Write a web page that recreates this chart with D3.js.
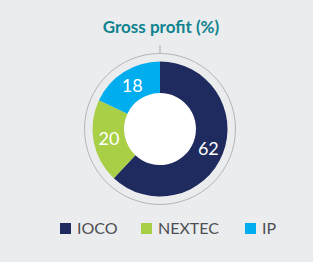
<!DOCTYPE html>
<html>
<head>
<meta charset="utf-8">
<script src="https://cdn.jsdelivr.net/npm/d3@7"></script>
<style>
  body { margin: 0; background: #ebeced; }
  svg { display: block; }
</style>
</head>
<body>
<div id="chart"></div>
<script>
// gross profit split by segment
var segments = ["IOCO", "NEXTEC", "IP"];
var values = [62, 20, 18];
var colours = ["#1f2a5e", "#a8cf45", "#00aeef"];
var title = "Gross profit (%)";

var width = 313, height = 262;
var cx = 160, cy = 129;

var svg = d3.select("#chart").append("svg")
    .attr("width", width)
    .attr("height", height);

svg.append("rect")
    .attr("width", width)
    .attr("height", height)
    .attr("fill", "#ebeced");

// title
svg.append("text")
    .attr("x", cx + 1)
    .attr("y", 33)
    .attr("text-anchor", "middle")
    .attr("font-family", "Lato")
    .attr("font-weight", "bold")
    .attr("font-size", 17)
    .attr("fill", "#0e8390")
    .text(title);

var g = svg.append("g")
    .attr("transform", "translate(" + cx + "," + cy + ")");

// outer ring + pointer line
g.append("line")
    .attr("x1", 0).attr("x2", 0)
    .attr("y1", -84).attr("y2", -76)
    .attr("stroke", "#a7a9ac")
    .attr("stroke-width", 1);

g.append("circle")
    .attr("r", 75.5)
    .attr("fill", "none")
    .attr("stroke", "#b3b5b8")
    .attr("stroke-width", 1);

g.append("circle")
    .attr("r", 36)
    .attr("fill", "#ffffff");

var pie = d3.pie().sort(null).value(function(d) { return d; });
var arc = d3.arc().innerRadius(36).outerRadius(67.5);
var labelArc = d3.arc().innerRadius(52).outerRadius(52);

var slices = g.selectAll(".slice")
    .data(pie(values))
    .enter().append("g")
    .attr("class", "slice");

slices.append("path")
    .attr("d", arc)
    .attr("fill", function(d, i) { return colours[i]; });

slices.append("text")
    .attr("transform", function(d) { return "translate(" + labelArc.centroid(d) + ")"; })
    .attr("text-anchor", "middle")
    .attr("dy", "0.36em")
    .attr("font-family", "Lato")
    .attr("font-size", 18)
    .attr("fill", "#ffffff")
    .text(function(d) { return d.data; });

// legend
var legendX = d3.scaleOrdinal().domain(segments).range([60, 141, 245]);

var legend = svg.selectAll(".legend")
    .data(segments)
    .enter().append("g")
    .attr("class", "legend")
    .attr("transform", function(d) { return "translate(" + legendX(d) + ",222)"; });

legend.append("rect")
    .attr("width", 11)
    .attr("height", 11)
    .attr("y", 1)
    .attr("fill", function(d, i) { return colours[i]; });

legend.append("text")
    .attr("x", 17)
    .attr("y", 12)
    .attr("font-family", "Lato")
    .attr("font-size", 16)
    .attr("fill", "#4d4f53")
    .text(function(d) { return d; });
</script>
</body>
</html>
